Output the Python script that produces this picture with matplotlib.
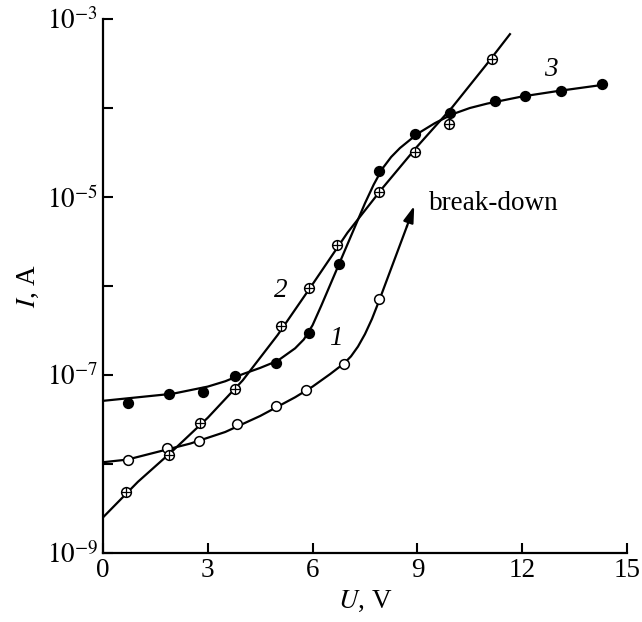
import matplotlib
matplotlib.use('Agg')
import matplotlib.pyplot as plt
import numpy as np

plt.rcParams['font.family'] = ['Liberation Serif', 'DejaVu Serif']
plt.rcParams['mathtext.fontset'] = 'stix'

# measured points (U in V, I in A)
u1 = [0.71, 1.84, 2.75, 3.85, 4.94, 5.82, 6.89, 7.89]
i1 = [1.12e-8, 1.52e-8, 1.8e-8, 2.8e-8, 4.5e-8, 6.8e-8, 1.33e-7, 7.1e-7]

u2 = [0.66, 1.88, 2.77, 3.78, 5.11, 5.89, 6.69, 7.89, 8.94, 9.91, 11.13]
i2 = [4.8e-9, 1.26e-8, 2.9e-8, 7.0e-8, 3.6e-7, 9.4e-7, 2.9e-6, 1.13e-5, 3.2e-5, 6.6e-5, 3.6e-4]

u3 = [0.72, 1.89, 2.85, 3.79, 4.94, 5.89, 6.75, 7.91, 8.93, 9.93, 11.23, 12.07, 13.11, 14.28]
i3 = [4.9e-8, 6.2e-8, 6.5e-8, 9.7e-8, 1.35e-7, 3.0e-7, 1.77e-6, 1.98e-5, 5.1e-5, 8.7e-5,
      1.2e-4, 1.37e-4, 1.55e-4, 1.86e-4]

# drawn curves (log10 of I)
c1u = [0, 0.7, 1.5, 2.5, 3.5, 4.5, 5.5, 6.0, 6.5, 6.9, 7.1, 7.3, 7.5, 7.7, 7.9, 8.1, 8.3, 8.5, 8.7]
c1l = [-7.98, -7.95, -7.87, -7.77, -7.64, -7.46, -7.25, -7.13, -6.99, -6.87, -6.79, -6.68,
       -6.54, -6.37, -6.17, -5.96, -5.75, -5.54, -5.33]
arrow_tip = (8.91, -5.10)

c2u = [0, 1, 2, 3, 4, 5, 6, 7, 8, 9, 10, 11, 11.65]
c2l = [-8.6, -8.2, -7.85, -7.48, -7.06, -6.55, -5.98, -5.40, -4.90, -4.43, -3.99, -3.50, -3.17]

c3u = [0, 1, 2, 3, 3.5, 4, 4.5, 5, 5.5, 5.75, 6.0, 6.25, 6.5, 6.75, 7, 7.25, 7.5, 7.75, 8,
       8.25, 8.5, 9, 9.5, 10, 10.5, 11, 12, 13, 14.3]
c3l = [-7.29, -7.25, -7.21, -7.13, -7.07, -6.99, -6.92, -6.84, -6.70, -6.60, -6.44, -6.22,
       -5.99, -5.76, -5.53, -5.30, -5.07, -4.86, -4.68, -4.55, -4.45, -4.29, -4.17, -4.07,
       -4.00, -3.95, -3.87, -3.81, -3.74]

xticks = [0, 3, 6, 9, 12, 15]
yticks = [1e-9, 1e-7, 1e-5, 1e-3]
yticklabels = [r'$10^{-9}$', r'$10^{-7}$', r'$10^{-5}$', r'$10^{-3}$']
yminor = [1e-8, 1e-6, 1e-4]

fs = 19.5

fig = plt.figure(figsize=(6.42, 6.22), dpi=100)
ax = fig.add_axes([0.1604, 0.1109, 0.8162, 0.8585])
ax.set_yscale('log')

lw = 1.6
ax.plot(c1u, 10.0 ** np.array(c1l), color='k', lw=lw)
ax.plot(c2u, 10.0 ** np.array(c2l), color='k', lw=lw)
ax.plot(c3u, 10.0 ** np.array(c3l), color='k', lw=lw)
ax.annotate('', xy=(arrow_tip[0], 10 ** arrow_tip[1]), xytext=(c1u[-1], 10 ** c1l[-1]),
            arrowprops=dict(arrowstyle='-|>,head_length=0.7,head_width=0.22', color='k',
                            lw=lw, mutation_scale=14, shrinkA=0, shrinkB=0))

ms = 7
ax.plot(u1, i1, 'o', ms=ms, mfc='white', mec='k', mew=1.1)
ax.plot(u2, i2, 'o', ms=ms, mfc='white', mec='k', mew=1.1)
ax.plot(u2, i2, '+', ms=ms, mec='k', mew=0.9)
ax.plot(u3, i3, 'o', ms=ms, mfc='k', mec='k', mew=1.1)

ax.text(6.68, 10 ** -6.59, '1', fontsize=fs, style='italic', ha='center', va='center')
ax.text(5.1, 10 ** -6.05, '2', fontsize=fs, style='italic', ha='center', va='center')
ax.text(12.83, 10 ** -3.565, '3', fontsize=fs, style='italic', ha='center', va='center')
ax.text(9.34, 10 ** -5.07, 'break-down', fontsize=fs, ha='left', va='center')

ax.set_xlim(0, 15)
ax.set_ylim(1e-9, 1e-3)
ax.set_xticks(xticks)
ax.set_xticklabels([str(t) for t in xticks])
ax.set_yticks(yticks)
ax.set_yticklabels(yticklabels)
ax.set_yticks(yminor, minor=True)
ax.set_yticklabels([], minor=True)
ax.tick_params(which='both', direction='in', length=7, width=1.5, labelsize=fs)
ax.tick_params(axis='x', which='minor', bottom=False)

for s in ['top', 'right']:
    ax.spines[s].set_visible(False)
for s in ['left', 'bottom']:
    ax.spines[s].set_linewidth(1.6)

ax.set_xlabel(r'$U$, V', fontsize=fs)
ax.set_ylabel(r'$I$, A', fontsize=fs)

fig.savefig('out.png', dpi=100)
